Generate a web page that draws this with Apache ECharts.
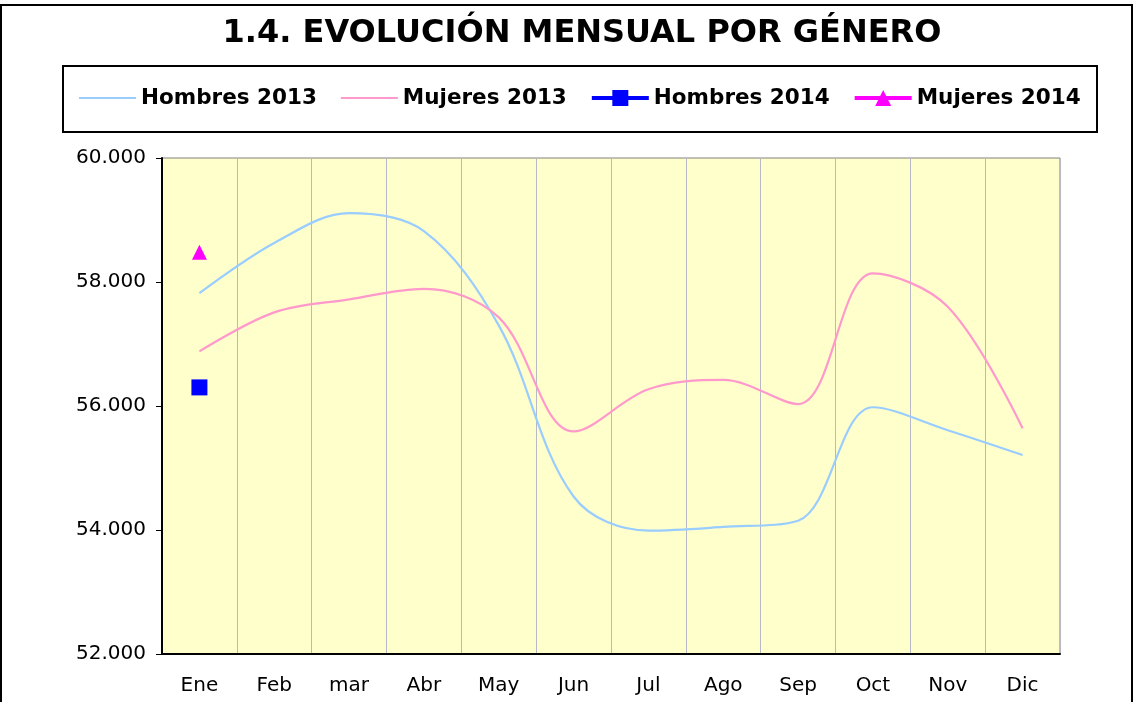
<!DOCTYPE html>
<html>
<head>
<meta charset="utf-8">
<script src="https://cdn.jsdelivr.net/npm/echarts@6/dist/echarts.min.js"></script>
<style>
  html, body { margin: 0; padding: 0; background: #fff; }
  #main { width: 1134px; height: 702px; }
</style>
</head>
<body>
<div id="main"></div>
<script>
  const meses = ['Ene', 'Feb', 'mar', 'Abr', 'May', 'Jun', 'Jul', 'Ago', 'Sep', 'Oct', 'Nov', 'Dic'];
  const hombres2013 = [57820, 58630, 59110, 58820, 57300, 54540, 53990, 54050, 54150, 55980, 55610, 55210];
  const mujeres2013 = [56880, 57510, 57720, 57890, 57430, 55590, 56270, 56420, 56030, 58140, 57600, 55640];
  const hombres2014 = [56300];
  const mujeres2014 = [58480];

  const fuente = 'DejaVu Sans, Verdana, sans-serif';
  const chart = echarts.init(document.getElementById('main'));

  const option = {
    animation: false,
    backgroundColor: '#fff',
    graphic: [
      {
        type: 'rect',
        shape: { x: 1, y: 5, width: 1131, height: 720 },
        style: { fill: 'none', stroke: '#000', lineWidth: 2 },
        z: 0
      },
      {
        type: 'rect',
        shape: { x: 63, y: 66, width: 1034, height: 66 },
        style: { fill: 'none', stroke: '#000', lineWidth: 2 },
        z: 0
      },
      {
        type: 'text',
        x: 582,
        y: 34,
        style: {
          text: '1.4. EVOLUCIÓN MENSUAL POR GÉNERO',
          font: 'bold 32px ' + fuente,
          fill: '#000',
          textAlign: 'center',
          textVerticalAlign: 'middle'
        }
      }
    ],
    legend: {
      left: 78,
      top: 87,
      padding: 0,
      itemWidth: 57,
      itemHeight: 20,
      itemGap: 23,
      textStyle: { fontFamily: fuente, fontWeight: 'bold', fontSize: 21.5, color: '#000' },
      data: [
        { name: 'Hombres 2013', itemStyle: { opacity: 0 }, lineStyle: { width: 2 } },
        { name: 'Mujeres 2013', itemStyle: { opacity: 0 }, lineStyle: { width: 2 } },
        { name: 'Hombres 2014', lineStyle: { width: 4 } },
        { name: 'Mujeres 2014', lineStyle: { width: 4 } }
      ]
    },
    grid: {
      left: 162,
      top: 158,
      right: 74,
      bottom: 48,
      show: true,
      backgroundColor: '#FFFFCC',
      borderColor: '#808080',
      borderWidth: 1
    },
    xAxis: {
      type: 'category',
      data: meses,
      boundaryGap: true,
      axisLine: { lineStyle: { color: '#000', width: 2 } },
      axisTick: { show: false },
      axisLabel: { fontFamily: fuente, fontSize: 20, color: '#000', margin: 22, interval: 0 },
      splitLine: { show: true, lineStyle: { color: '#B8B8C6', width: 1 } }
    },
    yAxis: {
      type: 'value',
      min: 52000,
      max: 60000,
      interval: 2000,
      axisLine: { show: true, lineStyle: { color: '#000', width: 2 } },
      axisTick: { show: true, length: 6, lineStyle: { color: '#000', width: 1 } },
      axisLabel: {
        fontFamily: fuente,
        fontSize: 20,
        color: '#000',
        margin: 16,
        formatter: v => String(v).replace(/\B(?=(\d{3})+(?!\d))/g, '.')
      },
      splitLine: { show: false }
    },
    series: [
      {
        name: 'Hombres 2013',
        type: 'line',
        data: hombres2013,
        smooth: 0.35,
        showSymbol: false,
        symbol: 'none',
        color: '#99CCFF',
        lineStyle: { width: 2.2, color: '#99CCFF' }
      },
      {
        name: 'Mujeres 2013',
        type: 'line',
        data: mujeres2013,
        smooth: 0.35,
        showSymbol: false,
        symbol: 'none',
        color: '#FF99CC',
        lineStyle: { width: 2.2, color: '#FF99CC' }
      },
      {
        name: 'Hombres 2014',
        type: 'line',
        data: hombres2014,
        symbol: 'rect',
        symbolSize: 16,
        color: '#0000FF',
        itemStyle: { color: '#0000FF' },
        lineStyle: { width: 4, color: '#0000FF' }
      },
      {
        name: 'Mujeres 2014',
        type: 'line',
        data: mujeres2014,
        symbol: 'triangle',
        symbolSize: 15,
        color: '#FF00FF',
        itemStyle: { color: '#FF00FF' },
        lineStyle: { width: 4, color: '#FF00FF' }
      }
    ]
  };

  chart.setOption(option);
</script>
</body>
</html>
